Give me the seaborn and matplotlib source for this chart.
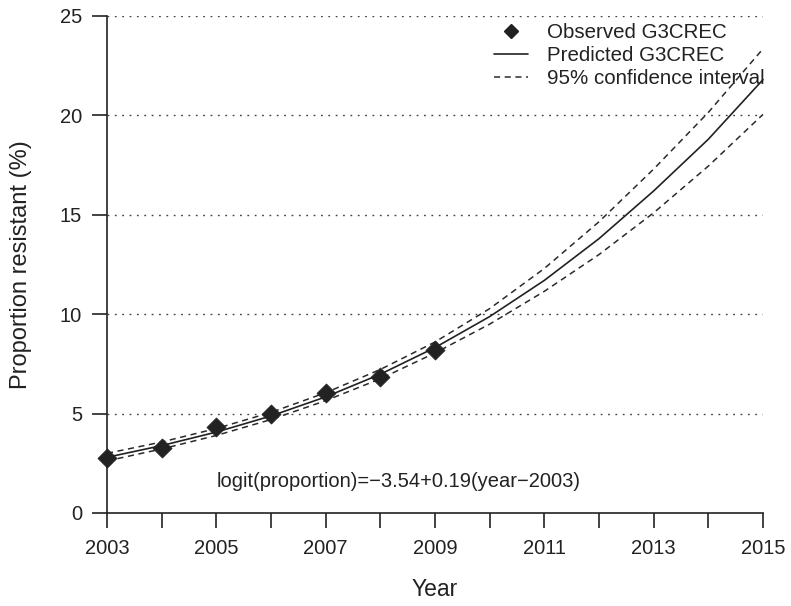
import matplotlib
matplotlib.use('Agg')
import matplotlib.pyplot as plt
from matplotlib.lines import Line2D
from matplotlib.ticker import MultipleLocator
import seaborn as sns

# observed proportions (%)
obs_years = [2003, 2004, 2005, 2006, 2007, 2008, 2009]
obs_pct = [2.78, 3.25, 4.34, 4.96, 6.02, 6.86, 8.2]

# fitted curve and 95% band
fit_years = [2003, 2004, 2005, 2006, 2007, 2008, 2009, 2010, 2011, 2012, 2013, 2014, 2015]
pred_pct = [2.8, 3.39, 4.07, 4.88, 5.84, 6.98, 8.32, 9.88, 11.7, 13.8, 16.2, 18.8, 21.8]
lower_pct = [2.62, 3.22, 3.9, 4.7, 5.65, 6.75, 8.05, 9.5, 11.15, 13.0, 15.1, 17.45, 20.05]
upper_pct = [3.0, 3.57, 4.25, 5.06, 6.05, 7.22, 8.6, 10.28, 12.3, 14.65, 17.3, 20.15, 23.35]

year_ticks = [2003, 2005, 2007, 2009, 2011, 2013, 2015]

sns.set_style('ticks')
plt.rcParams['font.family'] = ['Liberation Sans', 'DejaVu Sans']

fig = plt.figure(figsize=(7.91, 6.06), dpi=100)
ax = fig.add_axes([0.1353, 0.1535, 0.8293, 0.8201])

ink = '#222222'
dash = (4.0, 3.0)

# dotted horizontal grid
for v in [5, 10, 15, 20, 25]:
    ax.axhline(v, color='#444444', lw=1.0, ls=(0, (1.3, 4.0)), zorder=0)

sns.lineplot(x=fit_years, y=pred_pct, color=ink, lw=1.2, ax=ax)
sns.lineplot(x=fit_years, y=lower_pct, color='#2a2a2a', lw=1.1, ax=ax)
sns.lineplot(x=fit_years, y=upper_pct, color='#2a2a2a', lw=1.1, ax=ax)
ax.lines[-1].set_dashes(dash)
ax.lines[-2].set_dashes(dash)
for ln in ax.lines[-3:]:
    ln.set_clip_on(False)

sns.scatterplot(x=obs_years, y=obs_pct, marker='D', s=95, color=ink,
                edgecolor=ink, linewidth=0.5, ax=ax, zorder=5, clip_on=False)

ax.set_xlim(2003, 2015)
ax.set_ylim(0, 25)
ax.set_xticks(year_ticks)
ax.xaxis.set_minor_locator(MultipleLocator(1))
ax.yaxis.set_major_locator(MultipleLocator(5))

for s in ['top', 'right']:
    ax.spines[s].set_visible(False)
for s in ['left', 'bottom']:
    ax.spines[s].set_color(ink)
    ax.spines[s].set_linewidth(1.2)

ax.tick_params(axis='both', which='both', length=11, width=1.2, color=ink,
               labelsize=14.5, labelcolor=ink)
ax.tick_params(axis='x', which='both', pad=8)
ax.tick_params(axis='y', pad=7)

ax.set_xlabel('Year', fontsize=16.5, color=ink, labelpad=14)
ax.set_ylabel('Proportion resistant (%)', fontsize=17, color=ink, labelpad=20)

ax.text(2005.0, 1.3, 'logit(proportion)=\u22123.54+0.19(year\u22122003)',
        fontsize=14.5, color=ink, va='baseline', ha='left')

handles = [
    Line2D([], [], marker='D', ls='none', color=ink, markersize=7),
    Line2D([], [], color=ink, lw=1.2),
    Line2D([], [], color='#2a2a2a', lw=1.1, dashes=dash),
]
labels = ['Observed G3CREC', 'Predicted G3CREC', '95% confidence interval']
ax.legend(handles, labels, loc='upper right', bbox_to_anchor=(1.013, 1.0),
          frameon=False, fontsize=14.8, handlelength=1.65, handletextpad=0.9,
          labelspacing=0.2, borderaxespad=0.0, borderpad=0.35,
          labelcolor=ink)

fig.savefig('out.png', dpi=100)
